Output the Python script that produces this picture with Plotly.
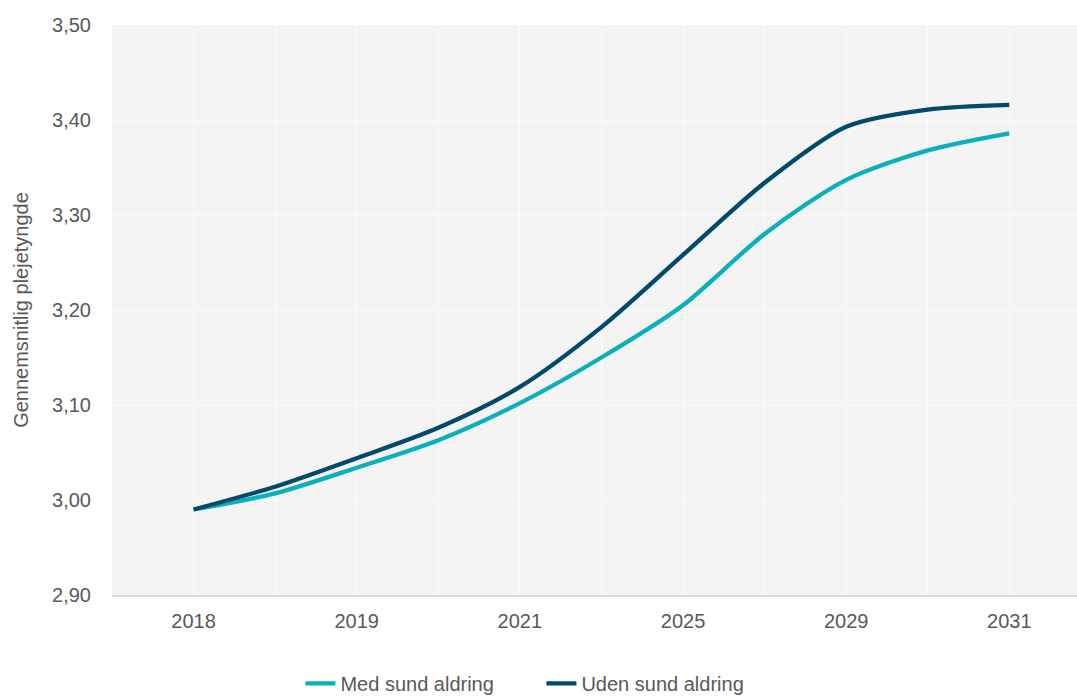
import plotly.graph_objects as go

# Period labels along the x axis (every other slot carries a label)
periods = ["2018", "", "2019", "", "2021", "", "2025", "", "2029", "", "2031"]
positions = list(range(len(periods)))

# Average care burden per scenario
med_sund = [2.990, 3.007, 3.034, 3.063, 3.102, 3.150, 3.205, 3.280, 3.337, 3.368, 3.386]
uden_sund = [2.990, 3.014, 3.044, 3.076, 3.119, 3.182, 3.258, 3.334, 3.393, 3.411, 3.416]

y_ticks = [2.9, 3.0, 3.1, 3.2, 3.3, 3.4, 3.5]

TEAL = "#0BB0BA"
NAVY = "#004A6B"
TXT = "#595959"
GRID = "#FAFAFA"
FONT = "Liberation Sans, Arial, sans-serif"

fig = go.Figure()
fig.add_trace(go.Scatter(
    x=positions, y=med_sund, name="Med sund aldring", mode="lines",
    line=dict(color=TEAL, width=4.3, shape="spline", smoothing=0.8),
))
fig.add_trace(go.Scatter(
    x=positions, y=uden_sund, name="Uden sund aldring", mode="lines",
    line=dict(color=NAVY, width=4.3, shape="spline", smoothing=0.8),
))

fig.update_layout(
    width=1077, height=696,
    margin=dict(l=112, r=0, t=25, b=101, autoexpand=False),
    paper_bgcolor="white",
    plot_bgcolor="#F4F4F4",
    separators=",.",
    font=dict(family=FONT, color=TXT, size=20),
    showlegend=True,
    legend=dict(
        orientation="h", x=0.445, xanchor="center", y=-0.155, yanchor="middle",
        font=dict(size=20, color=TXT, family=FONT),
        itemwidth=30, tracegroupgap=0,
        entrywidth=196, entrywidthmode="pixels",
    ),
)

fig.update_xaxes(
    range=[-1, 10.83], automargin=False,
    tickmode="array", tickvals=positions, ticktext=periods,
    showgrid=True, gridcolor=GRID, gridwidth=1,
    showline=True, linecolor="#D9D9D9", linewidth=2,
    ticks="", ticklabelstandoff=7,
    tickfont=dict(size=20, color=TXT, family=FONT),
    zeroline=False, fixedrange=True,
)
fig.update_yaxes(
    range=[2.9, 3.5], automargin=False,
    tickmode="array", tickvals=y_ticks, tickformat=".2f",
    showgrid=True, gridcolor=GRID, gridwidth=1,
    showline=False, ticks="", ticklabelstandoff=20,
    tickfont=dict(size=20, color=TXT, family=FONT),
    title=dict(text="Gennemsnitlig plejetyngde", font=dict(size=20, color=TXT, family=FONT), standoff=18),
    zeroline=False, fixedrange=True,
)

fig.write_html("out.html")
